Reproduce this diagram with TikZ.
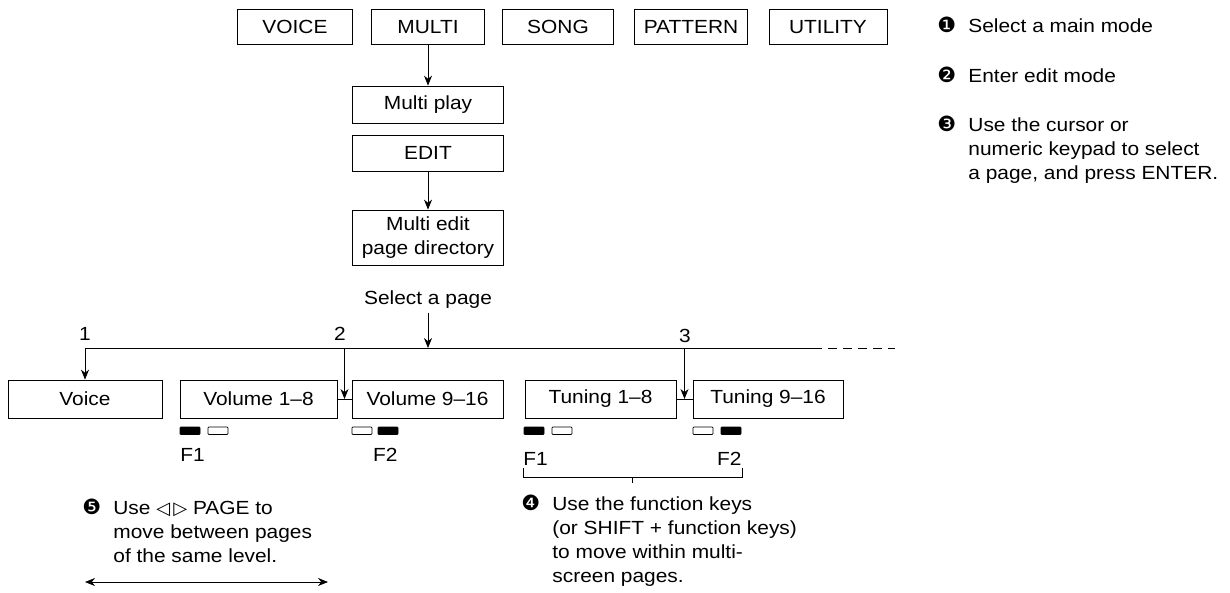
\documentclass[tikz,border=0pt]{standalone}
\usepackage{fontspec}
\setmainfont{Liberation Sans}[FakeStretch=1.1]
\newfontfamily\symfont{DejaVu Sans}
\usetikzlibrary{arrows.meta, positioning, calc}
\newcommand{\bul}[1]{\makebox[31pt][l]{\symfont\fontsize{21}{21}\selectfont #1}}
\newcommand{\tri}[1]{{\symfont\fontsize{18}{18}\selectfont #1}}
\newcommand{\notetab}[2]{\begin{tabular}{@{}l@{}l@{}}\bul{#1} & #2\end{tabular}}

\begin{document}
\begin{tikzpicture}[x=1pt, y=-1pt, line width=0.8pt,
  >={Stealth[length=10pt,width=8pt]},
  every node/.style={font=\fontsize{19}{24}\selectfont},
  box/.style={draw, inner sep=0pt, minimum height=35pt, align=center},
  note/.style={anchor=north west, inner sep=0pt, align=left}]
  \useasboundingbox[fill=white] (0,0) rectangle (1230,592);

  % main modes
  \foreach \n/\t/\x/\w in {voice/VOICE/295/115, multi/MULTI/428/113, song/SONG/558/111,
      pattern/PATTERN/691/113, utility/UTILITY/828/118}
    \node[box, minimum width=\w] (\n) at (\x,27) {\t};

  \node[box, minimum width=151, minimum height=37] (play) at (428,104.5) {Multi play};
  \node[box, minimum width=151, minimum height=36] (edit) at (428,153) {EDIT};
  \node[box, minimum width=151, minimum height=55] (dir) at (428,237.5) {Multi edit\\page directory};
  \draw[->] (multi) -- (play);
  \draw[->] (edit) -- (dir);

  \node (sel) at (428,300) {Select a page};

  % pages
  \foreach \n/\t/\x/\w in {voicepg/Voice/85/154, vol1/Volume 1--8/258.5/157, vol2/Volume 9--16/427.5/151,
      tun1/Tuning 1--8/600.5/151, tun2/Tuning 9--16/768/150}
    \node[box, minimum width=\w, minimum height=38] (\n) at (\x,399) {\t};

  \coordinate (j2) at ($(vol1.east)!0.5!(vol2.west)$);
  \coordinate (j3) at ($(tun1.east)!0.5!(tun2.west)$);
  \draw (vol1.east) -- (vol2.west);
  \draw (tun1.east) -- (tun2.west);

  \coordinate (busL) at (85,348);
  \coordinate (busR) at (813,348);
  \coordinate (busE) at (895,348);
  \draw (busL) -- (busR);
  \draw[dash pattern=on 9pt off 6pt] (busR) -- (busE);
  \draw[->] (busL) -- (voicepg.north);
  \draw[->] (j2 |- busL) -- (j2);
  \draw[->] (j3 |- busL) -- (j3);
  \draw[->] (sel.south) -- (sel |- busL);

  \node (n1) at (85,334) {1};
  \node (n2) at (340,334) {2};
  \node (n3) at (685,336) {3};

  % function key marks
  \foreach \x/\c in {180/black, 208/white, 352/white, 378/black, 524/black, 552/white, 693/white, 721/black}
    \draw[line width=0.7pt, fill=\c, rounded corners=0.8pt] (\x,427) rectangle ++(20,7.5);
  \node[anchor=west, inner sep=0pt] (f1a) at (180,455) {F1};
  \node[anchor=east, inner sep=0pt] (f2a) at (398,455) {F2};
  \node[anchor=west, inner sep=0pt] (f1b) at (523,459) {F1};
  \node[anchor=east, inner sep=0pt] (f2b) at (742,459) {F2};

  \coordinate (brL) at (523,477);
  \coordinate (brR) at (742,477);
  \coordinate (brM) at (632,477);
  \draw[line width=0.7pt] (brL) ++(0,-9) -- (brL) -- (brR) -- ++(0,-9);
  \draw[line width=0.7pt] (brM) -- ++(0,6);

  % notes
  \node[note] (note1) at (937,15) {\notetab{❶}{Select a main mode}};
  \node[note] (note2) at (937,65) {\notetab{❷}{Enter edit mode}};
  \node[note] (note3) at (937,114) {\notetab{❸}{Use the cursor or\\ & numeric keypad to select\\ & a page, and press ENTER.}};
  \node[note] (note4) at (521,493) {\notetab{❹}{Use the function keys\\ & (or SHIFT + function keys)\\ & to move within multi-\\ & screen pages.}};
  \node[note] (note5) at (82,497) {\notetab{❺}{Use \tri{◁}\,\tri{▷} PAGE to\\ & move between pages\\ & of the same level.}};

  \coordinate (pgL) at (85,582);
  \coordinate (pgR) at (328,582);
  \draw[<->] (pgL) -- (pgR);
\end{tikzpicture}
\end{document}
